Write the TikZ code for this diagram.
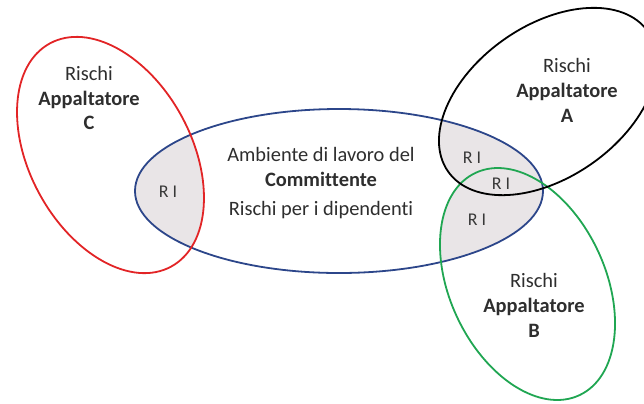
\documentclass[tikz,border=0pt]{standalone}
\usepackage{fontspec}
\setmainfont{Carlito}[Ligatures=NoCommon]
\usepackage{xcolor}
\usetikzlibrary{positioning}

\definecolor{riskred}{RGB}{226,36,38}
\definecolor{riskblue}{RGB}{44,70,138}
\definecolor{riskgreen}{RGB}{32,166,82}
\definecolor{overlap}{RGB}{233,229,231}

\begin{document}
\begin{tikzpicture}[
    x=1bp, y=-1bp,
    setline/.style={line width=1.8bp},
    setlabel/.style={font=\fontsize{20.5}{25}\selectfont, text=black!82, align=center},
    ri/.style={font=\fontsize{18}{20}\selectfont, text=black!78}
]
\useasboundingbox (0,0) rectangle (644,403);
\clip (0,0) rectangle (644,403);

% Overlaps with the client's area
\begin{scope}
  \clip (339,191) ellipse (204bp and 82bp);
  \begin{scope}[shift={(110.5,155)}, rotate=118.5]
    \fill[overlap] (0,0) ellipse (127bp and 81bp);
  \end{scope}
  \begin{scope}[shift={(548,101.5)}, rotate=35]
    \fill[overlap] (0,0) ellipse (122bp and 76bp);
  \end{scope}
  \begin{scope}[shift={(527.5,284)}, rotate=115]
    \fill[overlap] (0,0) ellipse (122.7bp and 77.8bp);
  \end{scope}
\end{scope}

% Sets
\draw[setline, riskblue] (339,191) ellipse (204bp and 82bp);
\begin{scope}[shift={(110.5,155)}, rotate=118.5]
  \draw[setline, riskred] (0,0) ellipse (127bp and 81bp);
\end{scope}
\begin{scope}[shift={(527.5,284)}, rotate=115]
  \draw[setline, riskgreen] (0,0) ellipse (122.7bp and 77.8bp);
\end{scope}
\begin{scope}[shift={(548,101.5)}, rotate=35]
  \draw[setline, black] (0,0) ellipse (122bp and 76bp);
\end{scope}

% Labels
\node[setlabel] (textC) at (89,98) {Rischi\\\textbf{Appaltatore}\\\textbf{C}};
\node[setlabel] (textA) at (567,90) {Rischi\\\textbf{Appaltatore}\\\textbf{A}};
\node[setlabel] (textB) at (534,305) {Rischi\\\textbf{Appaltatore}\\\textbf{B}};
\node[setlabel, font=\fontsize{20.5}{26}\selectfont] (textMain) at (321,183)
  {Ambiente di lavoro del\\\textbf{Committente}\\[3bp]Rischi per i dipendenti};

\node[ri] (riC) at (168,192) {R I};
\node[ri] (riA) at (472,158) {R I};
\node[ri] (riAB) at (501,184) {R I};
\node[ri] (riB) at (477,220) {R I};

\end{tikzpicture}
\end{document}
